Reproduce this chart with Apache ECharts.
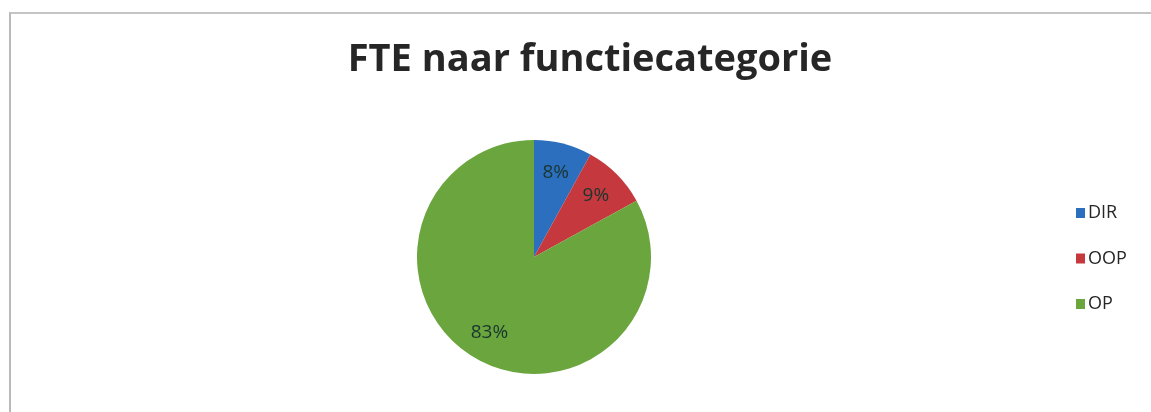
<!DOCTYPE html>
<html>
<head>
<meta charset="utf-8">
<script src="https://cdn.jsdelivr.net/npm/echarts@6/dist/echarts.min.js"></script>
<style>
  html, body { margin: 0; padding: 0; background: #fff; overflow: hidden; width: 1151px; height: 412px; }
  #chart { position: absolute; left: 0; top: 0; width: 1151px; height: 412px; }
  #frame { position: absolute; left: 9px; top: 12px; right: -60px; bottom: -60px;
           border-left: 2px solid #b9b9b9; border-top: 2px solid #c4c4c4; pointer-events: none; }
</style>
</head>
<body>
<div id="chart"></div>
<div id="frame"></div>
<script>
// FTE per function category
const categories = ['DIR', 'OOP', 'OP'];
const shares = [8, 9, 83];
const colors = ['#2b6fbe', '#c5383d', '#6aa63d'];

const pieData = categories.map((name, i) => ({
  name: name,
  value: shares[i],
  itemStyle: { color: colors[i] }
}));

const chart = echarts.init(document.getElementById('chart'), null, { renderer: 'canvas' });

chart.setOption({
  animation: false,
  backgroundColor: 'transparent',
  title: {
    text: 'FTE naar functiecategorie',
    left: 585,
    top: 36,
    textAlign: 'center',
    textStyle: {
      fontFamily: 'Open Sans',
      fontWeight: 'bold',
      fontSize: 38,
      color: '#262626'
    }
  },
  legend: {
    orient: 'vertical',
    left: 1071,
    top: 199,
    itemWidth: 9,
    itemHeight: 10,
    itemGap: 27.5,
    icon: 'rect',
    data: categories,
    textStyle: {
      fontFamily: 'Open Sans',
      fontSize: 18,
      color: '#262626',
      padding: [0, 0, 0, -2]
    }
  },
  series: [
    {
      type: 'pie',
      center: [534, 257],
      radius: [0, 117],
      startAngle: 90,
      clockwise: true,
      data: pieData,
      label: { show: false },
      labelLine: { show: false },
      emphasis: { disabled: true }
    },
    {
      // transparent ring that carries the percentage labels further out
      type: 'pie',
      center: [534, 257],
      radius: [52, 117],
      startAngle: 90,
      clockwise: true,
      silent: true,
      data: pieData.map(d => ({ name: d.name, value: d.value })),
      itemStyle: { color: 'rgba(0,0,0,0)' },
      label: {
        show: true,
        position: 'inside',
        formatter: '{c}%',
        fontFamily: 'Open Sans',
        fontSize: 19,
        color: '#1a3530'
      },
      labelLine: { show: false },
      emphasis: { disabled: true },
      legendHoverLink: false
    }
  ]
});
</script>
</body>
</html>
